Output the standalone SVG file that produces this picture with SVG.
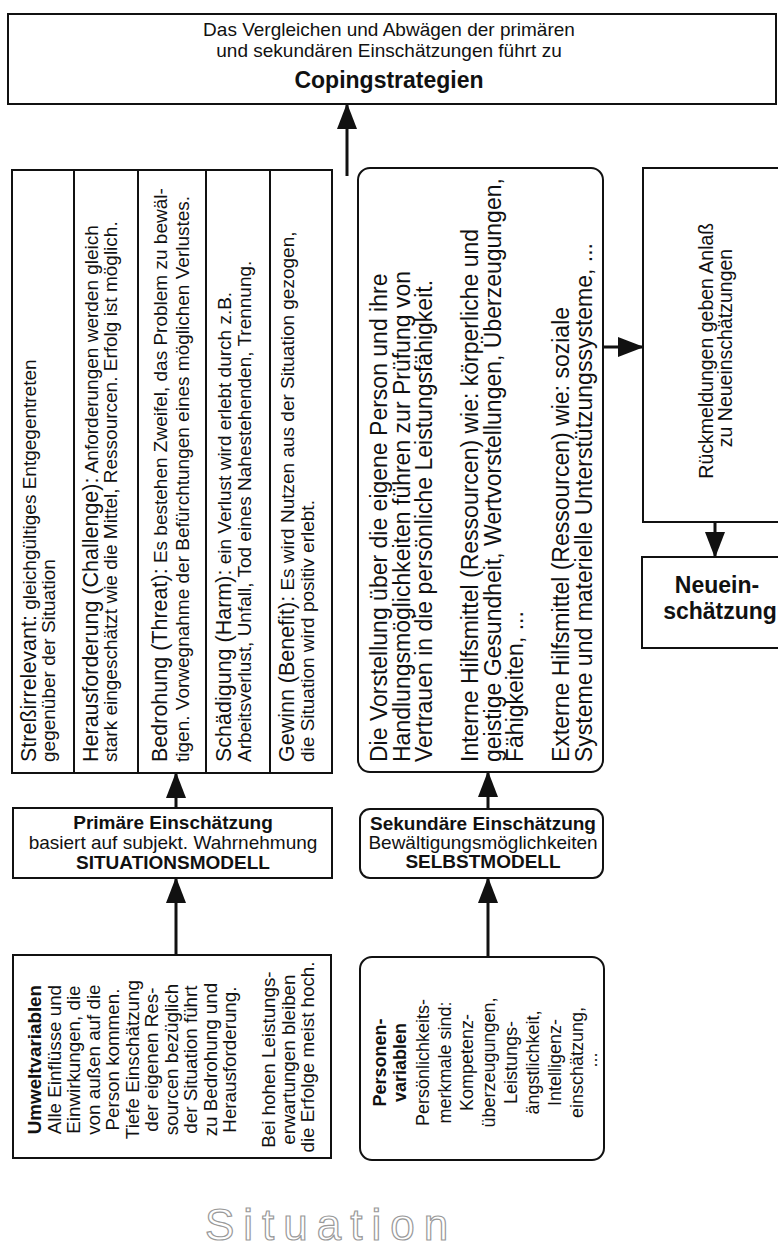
<svg xmlns="http://www.w3.org/2000/svg" width="778" height="1253" viewBox="0 0 778 1253">
<style>
.box{fill:#fff;stroke:#111;stroke-width:2}
.t{font-family:"Liberation Sans",Arial,Helvetica,sans-serif;fill:#111}
.b{font-weight:bold}
.lg{font-size:21.5px}
.sm{font-size:19px}
.conn{stroke:#111;stroke-width:3;fill:none}
.div{stroke:#111;stroke-width:2}
</style>
<defs>
<marker id="ah" viewBox="0 0 26 20" refX="24" refY="10" markerWidth="26" markerHeight="20" markerUnits="userSpaceOnUse" orient="auto">
<path d="M0,0 L26,10 L0,20 z" fill="#111"/>
</marker>
</defs>

<g id="coping">
<rect class="box" x="8" y="14" width="768" height="90"/>
<text class="t" x="389" y="36" font-size="19" text-anchor="middle">Das Vergleichen und Abwägen der primären</text>
<text class="t" x="389" y="57" font-size="19" text-anchor="middle">und sekundären Einschätzungen führt zu</text>
<text class="t b" x="389" y="88" font-size="23" text-anchor="middle">Copingstrategien</text>
</g>

<g id="bewertungen">
<rect class="box" x="12" y="170" width="320" height="603"/>
<line class="div" x1="74" y1="170" x2="74" y2="773"/>
<line class="div" x1="138" y1="170" x2="138" y2="773"/>
<line class="div" x1="206" y1="170" x2="206" y2="773"/>
<line class="div" x1="270" y1="170" x2="270" y2="773"/>
<text class="t" transform="translate(36,762) rotate(-90)"><tspan class="lg">Streßirrelevant:</tspan><tspan class="sm"> gleichgültiges Entgegentreten</tspan></text>
<text class="t sm" transform="translate(55,762) rotate(-90)">gegenüber der Situation</text>
<text class="t" transform="translate(98,762) rotate(-90)"><tspan class="lg">Herausforderung (Challenge):</tspan><tspan class="sm"> Anforderungen werden gleich</tspan></text>
<text class="t sm" transform="translate(117,762) rotate(-90)">stark eingeschätzt wie die Mittel, Ressourcen. Erfolg ist möglich.</text>
<text class="t" transform="translate(167,762) rotate(-90)"><tspan class="lg">Bedrohung (Threat):</tspan><tspan class="sm"> Es bestehen Zweifel, das Problem zu bewäl-</tspan></text>
<text class="t sm" transform="translate(189,762) rotate(-90)">tigen. Vorwegnahme der Befürchtungen eines möglichen Verlustes.</text>
<text class="t" transform="translate(231,762) rotate(-90)"><tspan class="lg">Schädigung (Harm):</tspan><tspan class="sm"> ein Verlust wird erlebt durch z.B.</tspan></text>
<text class="t sm" transform="translate(251,762) rotate(-90)">Arbeitsverlust, Unfall, Tod eines Nahestehenden, Trennung.</text>
<text class="t" transform="translate(294,762) rotate(-90)"><tspan class="lg">Gewinn (Benefit):</tspan><tspan class="sm"> Es wird Nutzen aus der Situation gezogen,</tspan></text>
<text class="t sm" transform="translate(314,762) rotate(-90)">die Situation wird positiv erlebt.</text>
</g>

<g id="primaere">
<rect class="box" x="13" y="808" width="319" height="70"/>
<text class="t b" x="173" y="829" font-size="19" text-anchor="middle">Primäre Einschätzung</text>
<text class="t" x="173" y="849" font-size="19" text-anchor="middle">basiert auf subjekt. Wahrnehmung</text>
<text class="t b" x="173" y="869" font-size="19" text-anchor="middle">SITUATIONSMODELL</text>
</g>

<g id="umwelt">
<rect class="box" x="13" y="955" width="318" height="203"/>
<text class="t" font-size="18.8" text-anchor="middle" transform="translate(41,1057) rotate(-90)">
<tspan x="0" y="0" font-weight="bold">Umweltvariablen</tspan>
<tspan x="0" dy="19.5">Alle Einflüsse und</tspan>
<tspan x="0" dy="19.5">Einwirkungen, die</tspan>
<tspan x="0" dy="19.5">von außen auf die</tspan>
<tspan x="0" dy="19.5">Person kommen.</tspan>
<tspan x="0" dy="19.5">Tiefe Einschätzung</tspan>
<tspan x="0" dy="19.5">der eigenen Res-</tspan>
<tspan x="0" dy="19.5">sourcen bezüglich</tspan>
<tspan x="0" dy="19.5">der Situation führt</tspan>
<tspan x="0" dy="19.5">zu Bedrohung und</tspan>
<tspan x="0" dy="19.5">Herausforderung.</tspan>
<tspan x="0" dy="39">Bei hohen Leistungs-</tspan>
<tspan x="0" dy="19.5">erwartungen bleiben</tspan>
<tspan x="0" dy="19.5">die Erfolge meist hoch.</tspan>
</text>
</g>

<g id="selbst">
<rect class="box" x="358" y="168" width="245" height="604" rx="12"/>
<g class="t" font-size="23">
<text transform="translate(387,762) rotate(-90)">Die Vorstellung über die eigene Person und ihre</text>
<text transform="translate(410,762) rotate(-90)">Handlungsmöglichkeiten führen zur Prüfung von</text>
<text transform="translate(432,762) rotate(-90)">Vertrauen in die persönliche Leistungsfähigkeit.</text>
<text transform="translate(478,762) rotate(-90)">Interne Hilfsmittel (Ressourcen) wie: körperliche und</text>
<text transform="translate(501,762) rotate(-90)">geistige Gesundheit, Wertvorstellungen, Überzeugungen,</text>
<text transform="translate(523,762) rotate(-90)">Fähigkeiten, ...</text>
<text transform="translate(569,762) rotate(-90)">Externe Hilfsmittel (Ressourcen) wie: soziale</text>
<text transform="translate(592,762) rotate(-90)">Systeme und materielle Unterstützungssysteme, ...</text>
</g>
</g>

<g id="sekundaere">
<rect class="box" x="360" y="809" width="243" height="69" rx="10"/>
<text class="t b" x="483" y="830" font-size="19" text-anchor="middle">Sekundäre Einschätzung</text>
<text class="t" x="483" y="849" font-size="19" text-anchor="middle">Bewältigungsmöglichkeiten</text>
<text class="t b" x="483" y="868" font-size="19" text-anchor="middle">SELBSTMODELL</text>
</g>

<g id="personen">
<rect class="box" x="360" y="957" width="244" height="203" rx="12"/>
<text class="t" font-size="18" text-anchor="middle" transform="translate(386,1060) rotate(-90)">
<tspan x="0" y="0" font-weight="bold">Personen-</tspan>
<tspan x="0" dy="20" font-weight="bold">variablen</tspan>
<tspan x="0" dy="23">Persönlichkeits-</tspan>
<tspan x="0" dy="22">merkmale sind:</tspan>
<tspan x="0" dy="22">Kompetenz-</tspan>
<tspan x="0" dy="22">überzeugungen,</tspan>
<tspan x="0" dy="22">Leistungs-</tspan>
<tspan x="0" dy="22">ängstlichkeit,</tspan>
<tspan x="0" dy="22">Intelligenz-</tspan>
<tspan x="0" dy="22">einschätzung,</tspan>
<tspan x="0" dy="14">...</tspan>
</text>
</g>

<g id="rueckmeldung">
<rect class="box" x="643" y="168" width="150" height="354"/>
<text class="t" font-size="19.5" text-anchor="middle" transform="translate(713,348) rotate(-90)">
<tspan x="0" y="0">Rückmeldungen geben Anlaß</tspan>
<tspan x="0" dy="19">zu Neueinschätzungen</tspan>
</text>
</g>

<g id="neueinschaetzung">
<rect class="box" x="642" y="557" width="150" height="91"/>
<text class="t b" x="717" y="593" font-size="23" text-anchor="middle">Neuein-</text>
<text class="t b" x="720" y="619" font-size="23" text-anchor="middle">schätzung</text>
</g>

<g id="connectors">
<line class="conn" x1="347" y1="176" x2="347" y2="105" marker-end="url(#ah)"/>
<line class="conn" x1="176" y1="808" x2="176" y2="774" marker-end="url(#ah)"/>
<line class="conn" x1="176" y1="955" x2="176" y2="879" marker-end="url(#ah)"/>
<line class="conn" x1="488" y1="809" x2="488" y2="773" marker-end="url(#ah)"/>
<line class="conn" x1="488" y1="957" x2="488" y2="879" marker-end="url(#ah)"/>
<line class="conn" x1="603" y1="347" x2="642" y2="347" marker-end="url(#ah)"/>
<line class="conn" x1="715" y1="522" x2="715" y2="556" marker-end="url(#ah)"/>
</g>

<g id="situation">
<text x="205" y="1240" font-family="'Liberation Sans',Arial,sans-serif" font-size="44" letter-spacing="9" fill="#fff" stroke="#999" stroke-width="1.2">Situation</text>
</g>
</svg>
